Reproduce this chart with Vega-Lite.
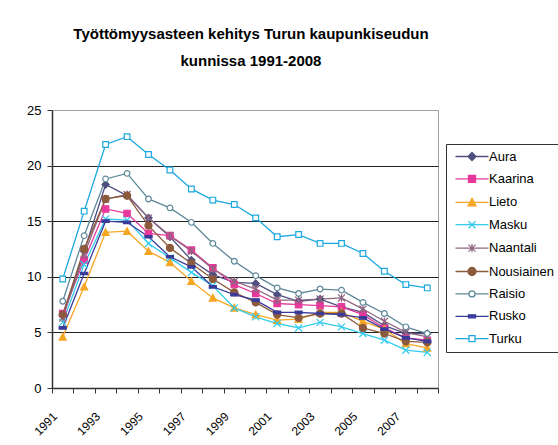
{
  "$schema": "https://vega.github.io/schema/vega-lite/v6.json",
  "width": 386,
  "height": 278,
  "autosize": {"type": "none"},
  "padding": {"left": 52, "top": 110, "right": 120, "bottom": 57},
  "background": "white",
  "title": {
    "text": ["Työttömyysasteen kehitys Turun kaupunkiseudun", "kunnissa 1991-2008"],
    "font": "Liberation Sans",
    "fontSize": 15,
    "fontWeight": "bold",
    "color": "#000000",
    "lineHeight": 27,
    "anchor": "middle",
    "dx": 6,
    "offset": 35
  },
  "data": {
    "values": [
      {"vuosi": "1991", "Aura": 6.5, "Kaarina": 6.7, "Lieto": 4.6, "Masku": 5.9, "Naantali": 6.3, "Nousiainen": 6.6, "Raisio": 7.8, "Rusko": 5.4, "Turku": 9.8},
      {"vuosi": "1992", "Aura": 12.3, "Kaarina": 11.5, "Lieto": 9.1, "Masku": 11.1, "Naantali": 12.0, "Nousiainen": 12.5, "Raisio": 13.7, "Rusko": 10.3, "Turku": 15.9},
      {"vuosi": "1993", "Aura": 18.3, "Kaarina": 16.1, "Lieto": 14.0, "Masku": 15.2, "Naantali": 17.0, "Nousiainen": 17.0, "Raisio": 18.8, "Rusko": 15.0, "Turku": 21.9},
      {"vuosi": "1994", "Aura": 17.3, "Kaarina": 15.7, "Lieto": 14.1, "Masku": 15.1, "Naantali": 17.4, "Nousiainen": 17.3, "Raisio": 19.3, "Rusko": 14.9, "Turku": 22.6},
      {"vuosi": "1995", "Aura": 15.3, "Kaarina": 13.9, "Lieto": 12.3, "Masku": 13.0, "Naantali": 15.3, "Nousiainen": 14.6, "Raisio": 17.0, "Rusko": 13.6, "Turku": 21.0},
      {"vuosi": "1996", "Aura": 13.6, "Kaarina": 13.7, "Lieto": 11.3, "Masku": 11.7, "Naantali": 13.7, "Nousiainen": 12.6, "Raisio": 16.2, "Rusko": 11.8, "Turku": 19.6},
      {"vuosi": "1997", "Aura": 11.5, "Kaarina": 12.4, "Lieto": 9.6, "Masku": 10.4, "Naantali": 12.3, "Nousiainen": 11.2, "Raisio": 14.9, "Rusko": 10.9, "Turku": 17.9},
      {"vuosi": "1998", "Aura": 10.2, "Kaarina": 10.8, "Lieto": 8.1, "Masku": 9.2, "Naantali": 10.7, "Nousiainen": 9.8, "Raisio": 13.0, "Rusko": 9.1, "Turku": 16.9},
      {"vuosi": "1999", "Aura": 9.5, "Kaarina": 9.3, "Lieto": 7.2, "Masku": 7.2, "Naantali": 9.6, "Nousiainen": 8.6, "Raisio": 11.4, "Rusko": 8.4, "Turku": 16.5},
      {"vuosi": "2000", "Aura": 9.4, "Kaarina": 8.5, "Lieto": 6.6, "Masku": 6.4, "Naantali": 8.9, "Nousiainen": 7.7, "Raisio": 10.1, "Rusko": 7.9, "Turku": 15.3},
      {"vuosi": "2001", "Aura": 8.4, "Kaarina": 7.6, "Lieto": 6.1, "Masku": 5.8, "Naantali": 7.9, "Nousiainen": 6.6, "Raisio": 9.0, "Rusko": 6.8, "Turku": 13.6},
      {"vuosi": "2002", "Aura": 7.8, "Kaarina": 7.5, "Lieto": 6.2, "Masku": 5.4, "Naantali": 7.9, "Nousiainen": 6.3, "Raisio": 8.5, "Rusko": 6.8, "Turku": 13.8},
      {"vuosi": "2003", "Aura": 8.0, "Kaarina": 7.4, "Lieto": 6.8, "Masku": 5.9, "Naantali": 8.0, "Nousiainen": 6.7, "Raisio": 8.9, "Rusko": 6.7, "Turku": 13.0},
      {"vuosi": "2004", "Aura": 7.3, "Kaarina": 7.3, "Lieto": 6.8, "Masku": 5.5, "Naantali": 8.1, "Nousiainen": 6.7, "Raisio": 8.8, "Rusko": 6.6, "Turku": 13.0},
      {"vuosi": "2005", "Aura": 6.8, "Kaarina": 6.6, "Lieto": 6.0, "Masku": 4.9, "Naantali": 7.1, "Nousiainen": 5.4, "Raisio": 7.7, "Rusko": 6.3, "Turku": 12.1},
      {"vuosi": "2006", "Aura": 5.6, "Kaarina": 5.4, "Lieto": 5.3, "Masku": 4.3, "Naantali": 6.0, "Nousiainen": 4.9, "Raisio": 6.7, "Rusko": 5.3, "Turku": 10.5},
      {"vuosi": "2007", "Aura": 4.9, "Kaarina": 4.5, "Lieto": 4.0, "Masku": 3.4, "Naantali": 5.0, "Nousiainen": 4.2, "Raisio": 5.5, "Rusko": 4.5, "Turku": 9.3},
      {"vuosi": "2008", "Aura": 4.9, "Kaarina": 4.3, "Lieto": 3.6, "Masku": 3.2, "Naantali": 4.6, "Nousiainen": 4.1, "Raisio": 4.9, "Rusko": 4.2, "Turku": 9.0}
    ]
  },
  "transform": [
    {"fold": ["Aura", "Kaarina", "Lieto", "Masku", "Naantali", "Nousiainen", "Raisio", "Rusko", "Turku"], "as": ["kunta", "arvo"]}
  ],
  "encoding": {
    "x": {
      "field": "vuosi",
      "type": "ordinal",
      "scale": {"type": "band", "paddingInner": 0, "paddingOuter": 0},
      "axis": {
        "title": null,
        "tickBand": "extent",
        "labelAngle": -45,
        "labelAlign": "right",
        "labelBaseline": "middle",
        "labelPadding": 21,
        "labelOffset": -8,
        "labelOverlap": false,
        "labelExpr": "toNumber(datum.value) % 2 == 1 ? datum.value : ''",
        "labelFont": "Liberation Sans",
        "labelFontSize": 12,
        "labelColor": "#000000",
        "domainColor": "#333333",
        "domainWidth": 1.5,
        "tickColor": "#333333",
        "tickSize": 5,
        "grid": false
      }
    },
    "y": {
      "field": "arvo",
      "type": "quantitative",
      "scale": {"domain": [0, 25], "nice": false},
      "axis": {
        "title": null,
        "values": [0, 5, 10, 15, 20, 25],
        "grid": true,
        "gridColor": {"condition": {"test": "datum.value == 25", "value": "#a0a0a0"}, "value": "#222222"},
        "gridWidth": 1,
        "tickSize": 5,
        "tickColor": "#333333",
        "labelPadding": 6,
        "labelFont": "Liberation Sans",
        "labelFontSize": 13,
        "labelColor": "#000000",
        "domainColor": "#333333",
        "domainWidth": 1.5
      }
    }
  },
  "layer": [
    {
      "mark": {"type": "line", "strokeWidth": 1.3},
      "encoding": {
        "stroke": {
          "field": "kunta",
          "type": "nominal",
          "scale": {
            "domain": ["Aura", "Kaarina", "Lieto", "Masku", "Naantali", "Nousiainen", "Raisio", "Rusko", "Turku"],
            "range": ["#4F4F80", "#E6399B", "#F5A623", "#33CCEE", "#8E6680", "#8C5A3C", "#5F8899", "#3A3A99", "#1CA8E0"]
          },
          "legend": {
            "title": null,
            "orient": "none",
            "legendX": 394,
            "legendY": 34,
            "padding": 6,
            "strokeColor": "#333333",
            "fillColor": "white",
            "symbolSize": 4,
            "symbolStrokeWidth": 1.3,
            "symbolOpacity": 1,
            "symbolType": {"expr": "({'Aura': 'M-3,0H30M13.5,-4L17.5,0L13.5,4L9.5,0Z', 'Kaarina': 'M-3,0H30M10,-3.5H17V3.5H10Z', 'Lieto': 'M-3,0H30M13.5,-4L17.5,3.5H9.5Z', 'Masku': 'M-3,0H30M10,-3.5L17,3.5M10,3.5L17,-3.5', 'Naantali': 'M-3,0H30M10,-3.5L17,3.5M10,3.5L17,-3.5M13.5,-4V4', 'Nousiainen': 'M-3,0H30M9.5,0A4,4,0,1,1,17.5,0A4,4,0,1,1,9.5,0Z', 'Raisio': 'M-3,0H10.5M16.5,0H30M10.5,0A3,3,0,1,1,16.5,0A3,3,0,1,1,10.5,0Z', 'Rusko': 'M-3,0H30M10,-1.5H17V1.5H10Z', 'Turku': 'M-3,0H10.5M16.5,0H30M10.5,-3H16.5V3H10.5Z'})[datum.value]"},
            "symbolFillColor": {"expr": "({'Aura': '#4F4F80', 'Kaarina': '#E6399B', 'Lieto': '#F5A623', 'Masku': 'transparent', 'Naantali': 'transparent', 'Nousiainen': '#8C5A3C', 'Raisio': 'white', 'Rusko': '#3A3A99', 'Turku': 'white'})[datum.value]"},
            "symbolStrokeColor": {"expr": "({'Aura': '#4F4F80', 'Kaarina': '#E6399B', 'Lieto': '#F5A623', 'Masku': '#33CCEE', 'Naantali': '#8E6680', 'Nousiainen': '#8C5A3C', 'Raisio': '#5F8899', 'Rusko': '#3A3A99', 'Turku': '#1CA8E0'})[datum.value]"},
            "labelFont": "Liberation Sans",
            "labelFontSize": 13,
            "labelColor": "#000000",
            "labelOffset": 24,
            "rowPadding": 8.4
          }
        }
      }
    },
    {
      "mark": {"type": "point", "size": 50, "strokeWidth": 1.2, "opacity": 1},
      "encoding": {
        "stroke": {
          "field": "kunta",
          "type": "nominal",
          "legend": {
            "title": null,
            "orient": "none",
            "legendX": 394,
            "legendY": 34,
            "padding": 6,
            "strokeColor": "#333333",
            "fillColor": "white",
            "symbolSize": 4,
            "symbolStrokeWidth": 1.3,
            "symbolOpacity": 1,
            "symbolType": {"expr": "({'Aura': 'M-3,0H30M13.5,-4L17.5,0L13.5,4L9.5,0Z', 'Kaarina': 'M-3,0H30M10,-3.5H17V3.5H10Z', 'Lieto': 'M-3,0H30M13.5,-4L17.5,3.5H9.5Z', 'Masku': 'M-3,0H30M10,-3.5L17,3.5M10,3.5L17,-3.5', 'Naantali': 'M-3,0H30M10,-3.5L17,3.5M10,3.5L17,-3.5M13.5,-4V4', 'Nousiainen': 'M-3,0H30M9.5,0A4,4,0,1,1,17.5,0A4,4,0,1,1,9.5,0Z', 'Raisio': 'M-3,0H10.5M16.5,0H30M10.5,0A3,3,0,1,1,16.5,0A3,3,0,1,1,10.5,0Z', 'Rusko': 'M-3,0H30M10,-1.5H17V1.5H10Z', 'Turku': 'M-3,0H10.5M16.5,0H30M10.5,-3H16.5V3H10.5Z'})[datum.value]"},
            "symbolFillColor": {"expr": "({'Aura': '#4F4F80', 'Kaarina': '#E6399B', 'Lieto': '#F5A623', 'Masku': 'transparent', 'Naantali': 'transparent', 'Nousiainen': '#8C5A3C', 'Raisio': 'white', 'Rusko': '#3A3A99', 'Turku': 'white'})[datum.value]"},
            "symbolStrokeColor": {"expr": "({'Aura': '#4F4F80', 'Kaarina': '#E6399B', 'Lieto': '#F5A623', 'Masku': '#33CCEE', 'Naantali': '#8E6680', 'Nousiainen': '#8C5A3C', 'Raisio': '#5F8899', 'Rusko': '#3A3A99', 'Turku': '#1CA8E0'})[datum.value]"},
            "labelFont": "Liberation Sans",
            "labelFontSize": 13,
            "labelColor": "#000000",
            "labelOffset": 24,
            "rowPadding": 8.4
          }
        },
        "shape": {
          "field": "kunta",
          "type": "nominal",
          "scale": {
            "domain": ["Turku", "Rusko", "Raisio", "Nousiainen", "Naantali", "Masku", "Lieto", "Kaarina", "Aura"],
            "range": ["M-0.8,-0.8H0.8V0.8H-0.8Z", "M-1,-0.35H1V0.35H-1Z", "M-0.8,0A0.8,0.8,0,1,1,0.8,0A0.8,0.8,0,1,1,-0.8,0Z", "circle", "M-1,-1L1,1M-1,1L1,-1M0,-1.1V1.1", "M-1,-1L1,1M-1,1L1,-1", "M0,-1L1,0.9H-1Z", "M-0.9,-0.9H0.9V0.9H-0.9Z", "M0,-1L1,0L0,1L-1,0Z"]
          },
          "legend": null
        },
        "fill": {
          "field": "kunta",
          "type": "nominal",
          "scale": {
            "domain": ["Kaarina", "Lieto", "Masku", "Naantali", "Nousiainen", "Raisio", "Rusko", "Turku", "Aura"],
            "range": ["#E6399B", "#F5A623", "transparent", "transparent", "#8C5A3C", "white", "#3A3A99", "white", "#4F4F80"]
          },
          "legend": null
        }
      }
    }
  ],
  "config": {
    "view": {"stroke": "#a0a0a0", "strokeWidth": 1},
    "font": "Liberation Sans"
  }
}
